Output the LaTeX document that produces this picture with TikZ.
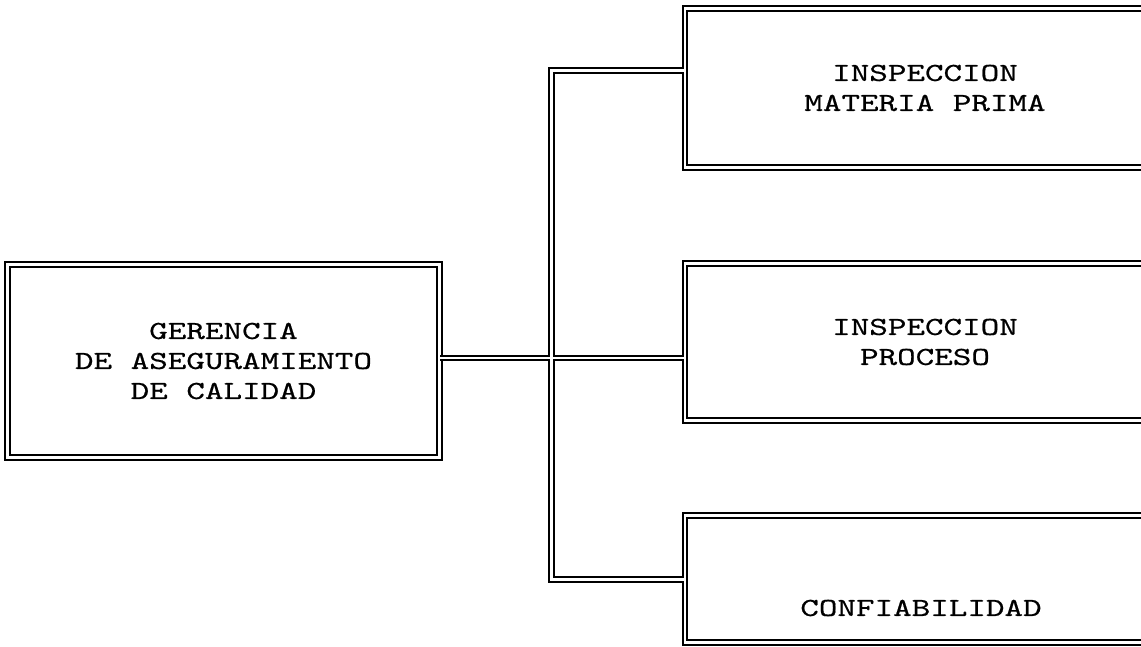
\documentclass[tikz,border=0pt]{standalone}
\usepackage{fontspec}
\newfontfamily\orgfont[FakeStretch=1.36,FakeBold=0.6]{lmmono10-regular.otf}

\begin{document}
\begin{tikzpicture}[x=1pt,y=-1pt,
	orgbox/.style={draw,double,double distance=2.8pt,line width=1.8pt,align=center,font=\orgfont\fontsize{26}{30}\selectfont},
	orgtext/.style={align=center,font=\orgfont\fontsize{26}{30}\selectfont}]
	\useasboundingbox (0,0) rectangle (1141,647);
	\clip (0,0) rectangle (1141,647);
	\node[orgbox,minimum width=432pt,minimum height=193pt] (gerencia) at (223.5,361) {GERENCIA\\DE ASEGURAMIENTO\\DE CALIDAD};
	\node[orgbox,minimum width=480pt,minimum height=159pt] (materia) at (925,88) {INSPECCION\\MATERIA PRIMA};
	\node[orgbox,minimum width=480pt,minimum height=157pt] (proceso) at (925,342) {INSPECCION\\PROCESO};
	\node[orgbox,minimum width=480pt,minimum height=127pt] (confiab) at (925,579) {};
	\node[orgtext] (confiab-txt) at (921,608) {CONFIABILIDAD};
	\coordinate (bus-top) at (551.5,70.5);
	\coordinate (bus-mid) at (551.5,358);
	\coordinate (bus-bot) at (551.5,579.5);
	\foreach \lw/\col in {6.4pt/black,2.8pt/white}
		\draw[line width=\lw,color=\col]
			(materia.west |- bus-top) -- (bus-top) -- (bus-bot) -- (confiab.west |- bus-bot)
			(gerencia.east |- bus-mid) -- (proceso.west |- bus-mid);
\end{tikzpicture}
\end{document}
